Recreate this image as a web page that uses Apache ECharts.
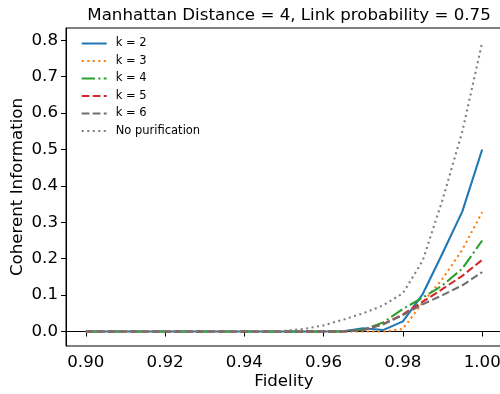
<!DOCTYPE html>
<html>
<head>
<meta charset="utf-8">
<script src="https://cdn.jsdelivr.net/npm/echarts@6/dist/echarts.min.js"></script>
<style>html,body{margin:0;padding:0;background:#fff}#c{width:500px;height:394px}</style>
</head>
<body>
<div id="c"></div>
<script>
var fidelity = [0.900,0.905,0.910,0.915,0.920,0.925,0.930,0.935,0.940,0.945,0.950,0.955,0.960,0.965,0.970,0.975,0.980,0.985,0.990,0.995,1.000];
var k2  = [0,0,0,0,0,0,0,0,0,0,0,0,0,0.001,0.009,0.004,0.028,0.103,0.215,0.330,0.500];
var k3  = [0,0,0,0,0,0,0,0,0,0,0,0,0,0,0,0,0.007,0.080,0.145,0.225,0.328];
var k4  = [0,0,0,0,0,0,0,0,0,0,0,0,0,0,0.005,0.025,0.062,0.093,0.127,0.173,0.250];
var k5  = [0,0,0,0,0,0,0,0,0,0,0,0,0,0,0.004,0.020,0.047,0.082,0.117,0.153,0.197];
var k6  = [0,0,0,0,0,0,0,0,0,0,0,0,0,0,0.004,0.020,0.045,0.075,0.100,0.127,0.163];
var noPur = [0,0,0,0,0,0,0,0,0,0,0.002,0.007,0.017,0.033,0.050,0.072,0.105,0.195,0.362,0.550,0.794];
var xTicks = [0.90,0.92,0.94,0.96,0.98,1.00];
var yTicks = [0.0,0.1,0.2,0.3,0.4,0.5,0.6,0.7,0.8];
var names = ['k = 2','k = 3','k = 4','k = 5','k = 6','No purification'];

var FONT = 'DejaVu Sans';
function pairs(ys){ return fidelity.map(function(x,i){ return [x, ys[i]]; }); }
var lw = 2.08;
var styles = [
  {color:'#1f77b4', type:'solid'},
  {color:'#ff7f0e', type:[2.08,3.43]},
  {color:'#2ca02c', type:[13.3,3.33,2.08,3.33]},
  {color:'#d62728', type:[7.7,3.33]},
  {color:'#6f6f6f', type:[7.7,3.33]},
  {color:'#808080', type:[2.08,3.43]}
];
var datasets = [k2,k3,k4,k5,k6,noPur];
var series = datasets.map(function(d,i){
  return {
    name: names[i], type:'line', data: pairs(d), symbol:'none', showSymbol:false,
    animation:false,
    lineStyle:{color:styles[i].color, width:lw, type:styles[i].type},
    itemStyle:{color:styles[i].color}
  };
});
var chart = echarts.init(document.getElementById('c'));
chart.setOption({
  animation:false,
  backgroundColor:'#fff',
  title:{text:'Manhattan Distance = 4, Link probability = 0.75', left:284, top:2, textAlign:'center',
    textStyle:{fontFamily:FONT, fontSize:16.67, fontWeight:'normal', color:'#000'}},
  legend:{orient:'vertical', left:75.7, top:32.5, itemWidth:25, itemHeight:10, itemGap:5.5,
    itemStyle:{opacity:0},
    textStyle:{fontFamily:FONT, fontSize:11.5, color:'#000', padding:[0,0,0,4]}, data:names},
  grid:{left:66, top:28, width:436, height:318, show:true, borderColor:'#000', borderWidth:1,
    containLabel:false, outerBoundsMode:'none'},
  xAxis:{type:'value', min:0.895, max:1.005,
    name:'Fidelity', nameLocation:'middle', nameGap:27, nameMoveOverlap:false,
    nameTextStyle:{fontFamily:FONT, fontSize:16.67, color:'#000'},
    axisLine:{show:true, lineStyle:{color:'#000', width:1}},
    axisTick:{show:true, length:5, lineStyle:{color:'#000', width:1}, customValues:xTicks},
    axisLabel:{fontFamily:FONT, fontSize:16.67, color:'#000', margin:8, customValues:xTicks,
      formatter:function(v){return v.toFixed(2);}},
    splitLine:{show:false}},
  yAxis:{type:'value', min:-0.0397, max:0.8337,
    name:'Coherent Information', nameLocation:'middle', nameGap:40, nameMoveOverlap:false,
    nameTextStyle:{fontFamily:FONT, fontSize:16.67, color:'#000'},
    axisLine:{show:true, lineStyle:{color:'#000', width:1}},
    axisTick:{show:true, length:5, lineStyle:{color:'#000', width:1}, customValues:yTicks},
    axisLabel:{fontFamily:FONT, fontSize:16.67, color:'#000', margin:8, customValues:yTicks,
      formatter:function(v){return v.toFixed(1);}},
    splitLine:{show:false}},
  series: series
});
</script>
</body>
</html>
